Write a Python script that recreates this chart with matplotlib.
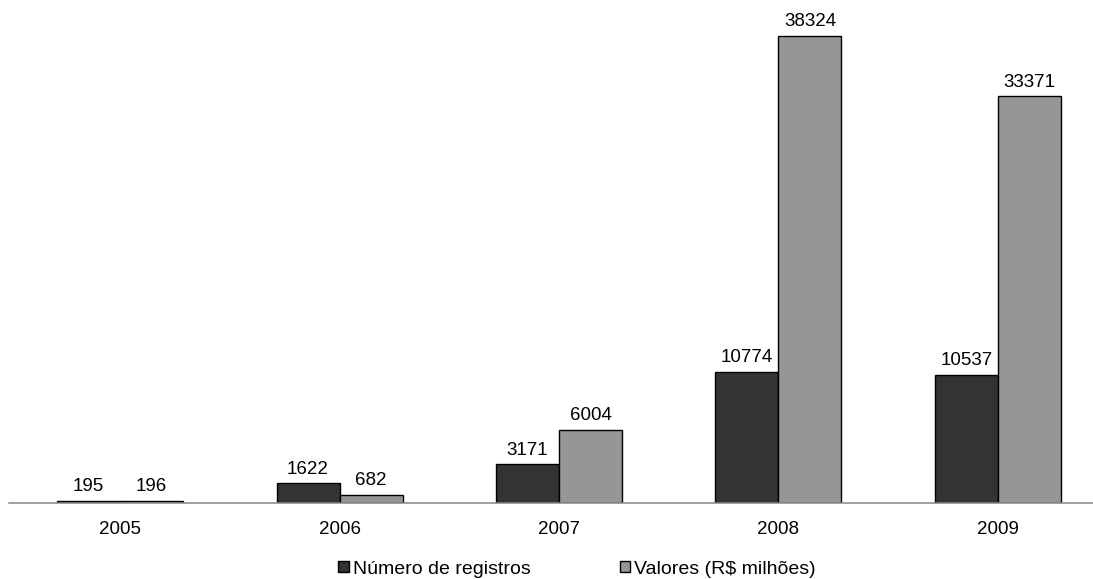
import matplotlib
matplotlib.use('Agg')

import matplotlib.pyplot as plt
import matplotlib.patches as patches
import numpy as np

plt.rcParams['font.family'] = ['Liberation Sans', 'DejaVu Sans']

# ── Data ──────────────────────────────────────────────────────────────────────
years     = ['2005', '2006', '2007', '2008', '2009']
registros = [195, 1622, 3171, 10774, 10537]
valores   = [196, 682, 6004, 38324, 33371]

LABEL_REG = 'Número de registros'
LABEL_VAL = 'Valores (R$ milhões)'

DARK  = '#333333'
LIGHT = '#969696'
BAR_W = 0.287
FS    = 13.5

# ── Figure ────────────────────────────────────────────────────────────────────
W, H = 1093, 579
fig = plt.figure(figsize=(W / 100, H / 100), dpi=100)
ax = fig.add_axes([9 / W, (H - 503) / H, (W - 9) / W, 503 / H])

x = np.arange(len(years))
b1 = ax.bar(x - BAR_W / 2, registros, BAR_W, color=DARK,
            edgecolor='black', linewidth=1.0)
b2 = ax.bar(x + BAR_W / 2, valores, BAR_W, color=LIGHT,
            edgecolor='black', linewidth=1.0)

for bars, vals in ((b1, registros), (b2, valores)):
    for rect, v in zip(bars, vals):
        ax.annotate(f'{v}', (rect.get_x() + rect.get_width() / 2, v),
                    xytext=(0, 4), textcoords='offset points',
                    ha='center', va='bottom', fontsize=FS)

ax.set_xlim(-0.506, 4.433)
ax.set_ylim(0, 41263)
ax.set_xticks(x)
ax.set_xticklabels(years, fontsize=FS)
ax.tick_params(axis='x', length=0, pad=13)
ax.set_yticks([])

for side in ('left', 'right', 'top'):
    ax.spines[side].set_visible(False)
ax.spines['bottom'].set_color('#868686')
ax.spines['bottom'].set_linewidth(1.1)

handles = [
    patches.Patch(facecolor=DARK, edgecolor='black', linewidth=1.0, label=LABEL_REG),
    patches.Patch(facecolor=LIGHT, edgecolor='black', linewidth=1.0, label=LABEL_VAL),
]
fig.legend(handles=handles, loc='center', ncol=2, frameon=False,
           bbox_to_anchor=(577 / W, 1 - 569 / H), fontsize=14,
           handlelength=0.55, handleheight=0.55, handletextpad=0.2,
           columnspacing=4.6)

fig.savefig('out.png', dpi=100)
